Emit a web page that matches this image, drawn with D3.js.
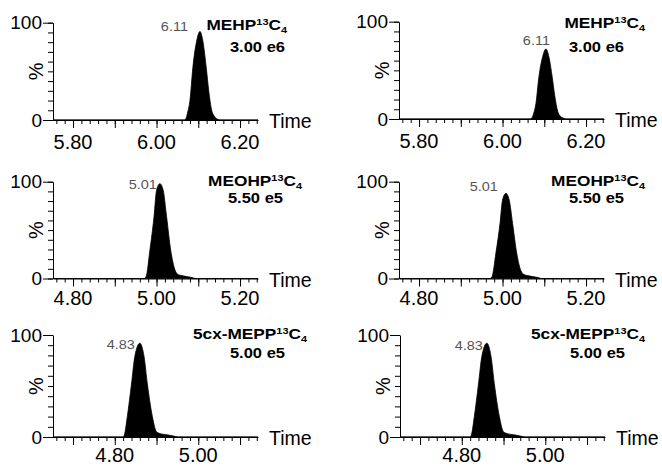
<!DOCTYPE html>
<html>
<head>
<meta charset="utf-8">
<script src="https://cdn.jsdelivr.net/npm/d3@7"></script>
<style>
  body { margin: 0; background: #fff; }
  text { font-family: "Liberation Sans", Arial, sans-serif; }
</style>
</head>
<body>
<script>
// compound names, scale factors and apex labels, left column then right column per row
var compounds = ['MEHP', 'MEHP', 'MEOHP', 'MEOHP', '5cx-MEPP', '5cx-MEPP'];
var intensities = ['3.00 e6', '3.00 e6', '5.50 e5', '5.50 e5', '5.00 e5', '5.00 e5'];
var apexLabels = ['6.11', '6.11', '5.01', '5.01', '4.83', '4.83'];

// time windows shown on each x axis (min)
var timeRanges = [[5.752, 6.243], [5.752, 6.243], [4.752, 5.243], [4.752, 5.243], [4.652, 5.143], [4.652, 5.143]];
var xTickLabels = [[5.80, 6.00, 6.20], [5.80, 6.00, 6.20], [4.80, 5.00, 5.20], [4.80, 5.00, 5.20], [4.80, 5.00], [4.80, 5.00]];
var yTickLabels = [0, 100];

// traces as [time, % intensity]
var mehpA = [[5.752,0],[6.066,0],[6.070,1],[6.074,7],[6.080,20],[6.087,54],[6.096,81],[6.104,91],[6.111,81],[6.119,54],[6.125,30],[6.132,10],[6.138,4],[6.145,1],[6.152,0],[6.243,0]];
var mehpB = [[5.752,0],[6.066,0],[6.070,1],[6.074,5],[6.080,16],[6.087,43],[6.096,64],[6.104,72],[6.111,64],[6.119,43],[6.125,24],[6.132,8],[6.138,3],[6.145,1],[6.152,0],[6.243,0]];
var meohpA = [[4.752,0],[4.970,0],[4.975,2],[4.984,29],[4.994,64],[5.000,91],[5.008,98],[5.016,91],[5.024,64],[5.034,29],[5.044,9],[5.052,4],[5.060,3],[5.072,2],[5.085,1],[5.093,0],[5.243,0]];
var meohpB = [[4.752,0],[4.970,0],[4.975,2],[4.984,26],[4.994,57],[5.000,81],[5.008,88],[5.016,81],[5.024,57],[5.034,26],[5.044,8],[5.052,4],[5.060,3],[5.072,2],[5.085,1],[5.093,0],[5.243,0]];
var mepA = [[4.652,0],[4.820,0],[4.823,2],[4.830,20],[4.840,52],[4.848,79],[4.860,92],[4.870,79],[4.878,52],[4.890,20],[4.900,5],[4.912,3],[4.928,2],[4.940,1],[4.952,0],[5.143,0]];
var mepB = [[4.652,0],[4.820,0],[4.823,2],[4.830,20],[4.840,52],[4.848,79],[4.860,92],[4.870,79],[4.878,52],[4.890,20],[4.900,5],[4.912,3],[4.928,2],[4.940,1],[4.952,0],[5.143,0]];
var traces = [mehpA, mehpB, meohpA, meohpB, mepA, mepB];

// panel placement in pixels
var layout = [
  {x0: 53,  x1: 258, top: 22.7,  base: 120,   lblY: 29, titleX: 287, titleY: 30,  intX: 285, intY: 52,  ldx: -12, ldy: 0},
  {x0: 399, x1: 604, top: 21.7,  base: 119,   lblY: 29, titleX: 645, titleY: 28,  intX: 624, intY: 52,  ldx: 4,   ldy: -4},
  {x0: 53,  x1: 258, top: 181.7, base: 278.5, lblY: 26, titleX: 302, titleY: 186, intX: 283, intY: 203, ldx: -3,  ldy: 5},
  {x0: 399, x1: 604, top: 181.7, base: 278.5, lblY: 26, titleX: 645, titleY: 186, intX: 624, intY: 203, ldx: -8,  ldy: -2},
  {x0: 53,  x1: 258, top: 335,   base: 437,   lblY: 25, titleX: 307, titleY: 339, intX: 285, intY: 358, ldx: -5,  ldy: 6},
  {x0: 400, x1: 605, top: 335,   base: 437,   lblY: 25, titleX: 645, titleY: 339, intX: 625, intY: 358, ldx: -4,  ldy: 7}
];

var svg = d3.select('body').append('svg')
    .attr('width', 662)
    .attr('height', 466);

function stepTicks(dom, step) {
  var a = Math.ceil(dom[0] / step - 1e-6), b = Math.floor(dom[1] / step + 1e-6);
  return d3.range(a, b + 1).map(function (k) { return +(k * step).toFixed(3); });
}

layout.forEach(function (L, i) {
  var g = svg.append('g');
  var xScale = d3.scaleLinear().domain(timeRanges[i]).range([L.x0, L.x1]);
  var yScale = d3.scaleLinear().domain([0, 100]).range([L.base, L.top]);

  // peak
  var area = d3.area()
      .x(function (d) { return xScale(d[0]); })
      .y0(yScale(0))
      .y1(function (d) { return yScale(d[1]); })
      .curve(d3.curveMonotoneX);
  g.append('path')
      .datum(traces[i])
      .attr('d', area)
      .attr('fill', '#000')
      .attr('stroke', '#000')
      .attr('stroke-width', 0.8);

  // x axis: minor, major, labels
  var xg = g.append('g').attr('transform', 'translate(0,' + L.base + ')');
  xg.call(d3.axisBottom(xScale).tickValues(stepTicks(timeRanges[i], 0.02)).tickSize(4).tickSizeOuter(0).tickFormat(''));
  xg.append('g').call(d3.axisBottom(xScale).tickValues(stepTicks(timeRanges[i], 0.1)).tickSize(8).tickSizeOuter(0).tickFormat(''))
    .select('.domain').remove();
  xg.selectAll('.domain, line').attr('stroke', '#000');
  xg.selectAll('.lbl')
    .data(xTickLabels[i])
    .enter()
    .append('text')
    .attr('class', 'lbl')
    .attr('x', function (d) { return xScale(d); })
    .attr('y', L.lblY)
    .attr('text-anchor', 'middle')
    .attr('font-size', 20)
    .attr('fill', '#000')
    .text(function (d) { return d.toFixed(2); });

  g.append('text')
      .attr('x', L.x1 + 11)
      .attr('y', L.base + 8)
      .attr('font-size', 19.5)
      .text('Time');

  // y axis
  var yg = g.append('g').attr('transform', 'translate(' + L.x0 + ',0)');
  yg.call(d3.axisLeft(yScale).tickValues(d3.range(0, 101, 10)).tickSize(5).tickSizeOuter(0).tickFormat(''));
  yg.append('g').call(d3.axisLeft(yScale).tickValues(yTickLabels).tickSize(10).tickSizeOuter(0).tickPadding(1))
    .call(function (s) {
      s.select('.domain').remove();
      s.selectAll('text').attr('font-size', 19).attr('fill', '#000')
        .attr('font-family', '"Liberation Sans", Arial, sans-serif');
    });
  yg.selectAll('.domain, line').attr('stroke', '#000');

  g.append('text')
      .attr('transform', 'translate(' + (L.x0 - 17) + ',' + ((L.top + L.base) / 2) + ') rotate(-90)')
      .attr('text-anchor', 'middle')
      .attr('dominant-baseline', 'central')
      .attr('font-size', 20)
      .text('%');

  // apex label
  var apex = d3.greatest(traces[i], function (d) { return d[1]; });
  g.append('text')
      .attr('transform', 'translate(' + (xScale(apex[0]) + L.ldx) + ',' + (yScale(apex[1]) + L.ldy) + ') scale(1.16,1)')
      .attr('text-anchor', 'end')
      .attr('font-size', 12.5)
      .attr('fill', '#555')
      .text(apexLabels[i]);

  // compound title
  var t = g.append('text')
      .attr('transform', 'translate(' + L.titleX + ',' + L.titleY + ') scale(1.15,1)')
      .attr('text-anchor', 'end')
      .attr('font-size', 15)
      .attr('font-weight', 'bold');
  t.append('tspan').text(compounds[i]);
  t.append('tspan').attr('font-size', 9.5).attr('dy', -5.5).text('13');
  t.append('tspan').attr('dy', 5.5).text('C');
  t.append('tspan').attr('font-size', 9.5).attr('dy', 3).text('4');

  g.append('text')
      .attr('transform', 'translate(' + L.intX + ',' + L.intY + ') scale(1.18,1)')
      .attr('text-anchor', 'end')
      .attr('font-size', 14)
      .attr('font-weight', 'bold')
      .text(intensities[i]);
});
</script>
</body>
</html>
